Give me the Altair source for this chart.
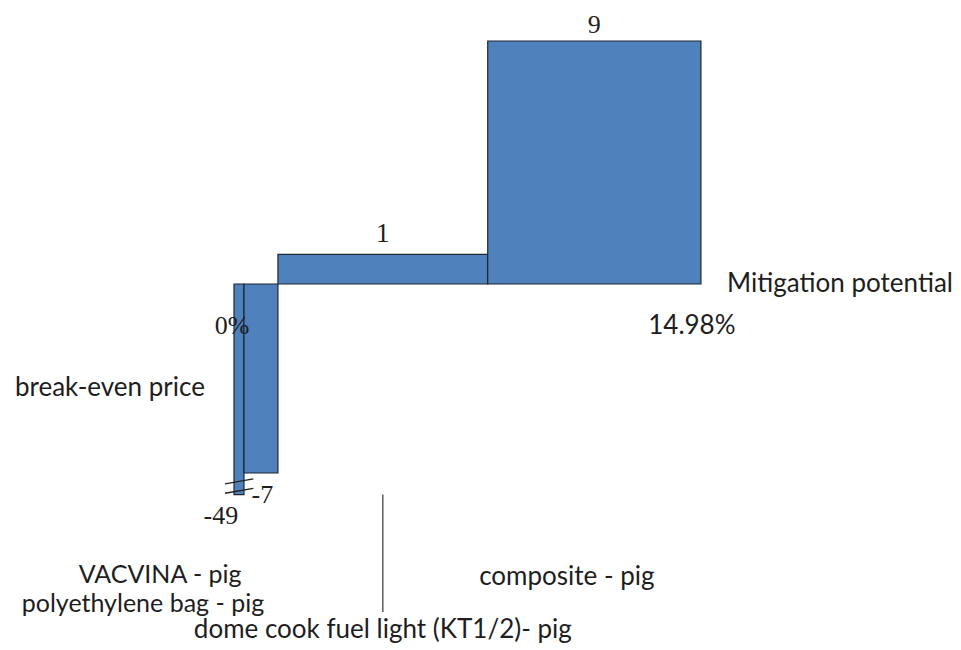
import altair as alt
import pandas as pd

# ---- data ----
categories = ["VACVINA - pig", "polyethylene bag - pig",
              "dome cook fuel light (KT1/2)- pig", "composite - pig"]
potential = [0.32, 1.09, 6.73, 6.84]      # mitigation potential, % (bar widths)
price = [-49, -7, 1.1, 9]                 # break-even price (bar heights)
price_labels = ["-49", "-7", "1", "9"]
start_label = "0%"
total_label = "14.98%"
x_title = "Mitigation potential"
y_title = "break-even price"
AXIS_BREAK = -7.8                         # y axis is broken below this level

# ---- layout ----
W, H = 945, 632
PX_X, PX_Y = 31.17, 27.0
X0 = -226 / PX_X
Y1 = 276 / PX_Y
XDOM = [X0, X0 + W / PX_X]
YDOM = [Y1 - H / PX_Y, Y1]
SANS = "Lato"
SERIF = "Liberation Serif"
FS = 26
TXT = "#1e1e1e"

x_start, cum = [], 0.0
for p in potential:
    x_start.append(cum)
    cum += p
bars = pd.DataFrame({
    "cat": categories,
    "x": x_start,
    "x2": [a + b for a, b in zip(x_start, potential)],
    "y": [max(v, AXIS_BREAK) for v in price],
    "y2": [0] * len(price),
})

xs = alt.Scale(domain=XDOM, nice=False, zero=False)
ys = alt.Scale(domain=YDOM, nice=False, zero=False)

rects = alt.Chart(bars).mark_rect(
    color="#4F81BD", stroke="#1d2733", strokeWidth=1.2
).encode(
    x=alt.X("x:Q", scale=xs, axis=None), x2="x2:Q",
    y=alt.Y("y:Q", scale=ys, axis=None), y2="y2:Q",
)

bx = [(a + b) / 2 for a, b in zip(bars["x"], bars["x2"])]

# serif number labels
nums = pd.DataFrame({
    "t": [price_labels[3], price_labels[2], price_labels[1], price_labels[0], start_label],
    "x": [bx[3], bx[2], bars["x2"][1] - 0.5, -0.42, -0.06],
    "y": [price[3] + 0.60, price[2] + 0.75, AXIS_BREAK, AXIS_BREAK - 0.78, -1.56],
    "s": [26, 27, 26, 26, 26],
})
ntext = alt.Chart(nums).mark_text(
    font=SERIF, color=TXT, baseline="middle", align="center"
).encode(x=alt.X("x:Q", scale=xs), y=alt.Y("y:Q", scale=ys), text="t:N",
         size=alt.Size("s:Q", scale=None, legend=None))

# sans labels
labels = pd.DataFrame({
    "t": [total_label, y_title],
    "x": [cum - 0.29, -3.98],
    "y": [-1.56, -3.85],
})
ltext = alt.Chart(labels).mark_text(
    font=SANS, fontSize=FS, color=TXT, baseline="middle", align="center"
).encode(x=alt.X("x:Q", scale=xs), y=alt.Y("y:Q", scale=ys), text="t:N")

xt = alt.Chart(pd.DataFrame({"t": [x_title], "x": [cum + 0.84], "y": [0]})).mark_text(
    font=SANS, fontSize=FS, color=TXT, baseline="middle", align="left"
).encode(x=alt.X("x:Q", scale=xs), y=alt.Y("y:Q", scale=ys), text="t:N")

cats = pd.DataFrame({
    "t": categories,
    "x": [-2.37, -2.92, bx[2], 10.68],
    "y": [-10.78, -11.85, -12.8, -10.85],
    "s": [25, 25, 26, 26],
})
ctext = alt.Chart(cats).mark_text(
    font=SANS, color=TXT, baseline="middle", align="center"
).encode(x=alt.X("x:Q", scale=xs), y=alt.Y("y:Q", scale=ys), text="t:N",
         size=alt.Size("s:Q", scale=None, legend=None))

leader = alt.Chart(pd.DataFrame({"x": [bx[2]], "y": [AXIS_BREAK], "y2": [-12.15]})).mark_rule(
    color="#333333", strokeWidth=1.2
).encode(x=alt.X("x:Q", scale=xs), y=alt.Y("y:Q", scale=ys), y2="y2:Q")

brk = pd.DataFrame({
    "x": [-0.29, -0.29], "x2": [0.62, 0.62],
    "y": [AXIS_BREAK + 0.4, AXIS_BREAK + 0.05],
    "y2": [AXIS_BREAK + 0.58, AXIS_BREAK + 0.23],
})
breaks = alt.Chart(brk).mark_rule(color="#222222", strokeWidth=1.3).encode(
    x=alt.X("x:Q", scale=xs), x2="x2:Q", y=alt.Y("y:Q", scale=ys), y2="y2:Q"
)

chart = alt.layer(rects, breaks, leader, ntext, ltext, xt, ctext).properties(
    width=W, height=H, padding=0,
    view=alt.ViewBackground(stroke="transparent", strokeWidth=0)
).configure_view(stroke="transparent", strokeWidth=0).configure(background="white")

chart.save("out.html", embed_options={"renderer": "svg", "actions": False})
